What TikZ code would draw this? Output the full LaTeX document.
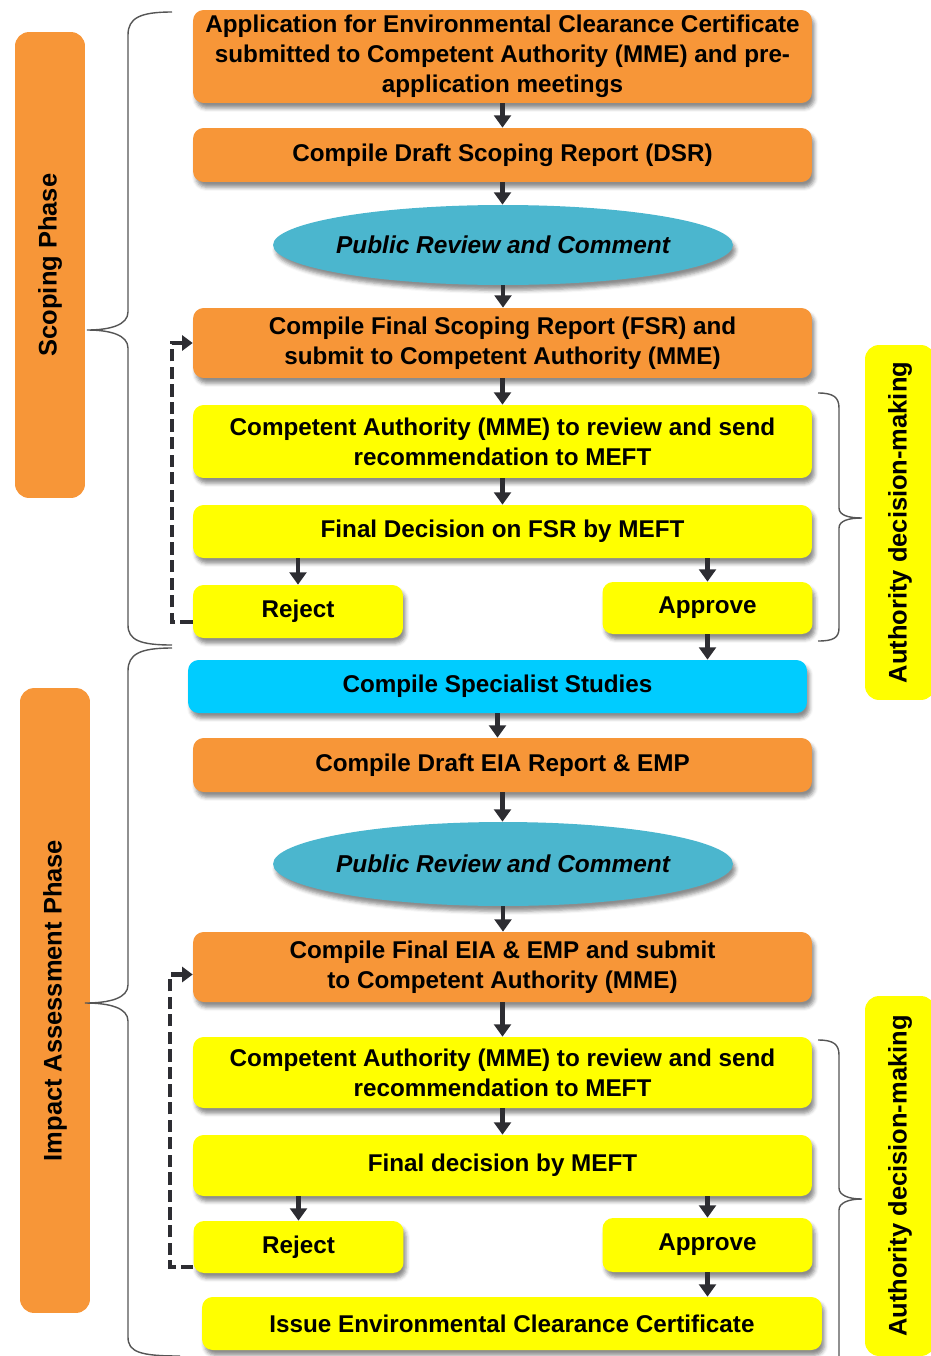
\documentclass[tikz,border=0pt]{standalone}
\usepackage{fontspec}
\setmainfont{Liberation Sans}
\usetikzlibrary{arrows.meta,shapes.geometric,shadows.blur}

\definecolor{eiaorange}{RGB}{247,150,56}
\definecolor{eiayellow}{RGB}{255,255,0}
\definecolor{eiacyan}{RGB}{0,204,255}
\definecolor{eiateal}{RGB}{75,182,206}
\definecolor{eiaarrow}{RGB}{45,45,50}
\definecolor{eiabrace}{RGB}{85,85,85}

\tikzset{
  stepbox/.style={rectangle,rounded corners=6pt,minimum width=12.38cm,inner sep=1pt,align=center,
    font=\fontsize{13.8}{17}\selectfont\bfseries,
    blur shadow={shadow xshift=1.5pt,shadow yshift=-3pt,shadow opacity=45}},
  orangebox/.style={stepbox,fill=eiaorange},
  yellowbox/.style={stepbox,fill=eiayellow},
  choicebox/.style={yellowbox,minimum width=4.2cm},
  review/.style={ellipse,fill=eiateal,minimum width=9.2cm,inner xsep=-3pt,inner ysep=1pt,
    font=\fontsize{13.9}{16}\selectfont\bfseries\itshape,
    blur shadow={shadow xshift=1.5pt,shadow yshift=-3pt,shadow opacity=45}},
  phasebar/.style={rectangle,rounded corners=8pt,rotate=90,minimum height=1.4cm,
    font=\fontsize{14.5}{16}\selectfont\bfseries},
  arr/.style={-{Triangle[length=7pt,width=9.5pt]},line width=2.8pt,draw=eiaarrow},
  fb/.style={-{Triangle[length=6pt,width=8.5pt]},dash pattern=on 7pt off 3pt,line width=2.3pt,draw=eiaarrow},
  brc/.style={draw=eiabrace,line width=0.8pt}
}

\begin{document}
\begin{tikzpicture}[x=0.02cm,y=-0.02cm]
\useasboundingbox (0,0) rectangle (930,1356);

% scoping phase
\node[orangebox,minimum height=1.86cm] (app) at (502.5,56.5) {Application for Environmental Clearance Certificate\\submitted to Competent Authority (MME) and pre-\\application meetings};
\node[orangebox,minimum height=1.08cm] (dsr) at (502.5,155) {Compile Draft Scoping Report (DSR)};
\node[review,minimum height=1.6cm] (pr1) at (503,245) {Public Review and Comment};
\node[orangebox,minimum height=1.4cm] (fsr) at (502.5,343) {Compile Final Scoping Report (FSR) and\\submit to Competent Authority (MME)};
\node[yellowbox,minimum height=1.46cm] (ca1) at (502.5,441.5) {Competent Authority (MME) to review and send\\recommendation to MEFT};
\node[yellowbox,minimum height=1.06cm] (fd1) at (502.5,531.5) {Final Decision on FSR by MEFT};
\node[choicebox,minimum height=1.06cm] (rej1) at (298,611.5) {Reject};
\node[choicebox,minimum height=1.04cm] (app1) at (707.5,608) {Approve};

% impact assessment phase
\node[stepbox,fill=eiacyan,minimum height=1.06cm] (spec) at (497.5,686.5) {Compile Specialist Studies};
\node[orangebox,minimum height=1.08cm] (deia) at (502.5,765) {Compile Draft EIA Report \& EMP};
\node[review,minimum height=1.68cm] (pr2) at (503,864) {Public Review and Comment};
\node[orangebox,minimum height=1.4cm] (feia) at (502.5,967) {Compile Final EIA \& EMP and submit\\to Competent Authority (MME)};
\node[yellowbox,minimum height=1.42cm] (ca2) at (502.5,1072.5) {Competent Authority (MME) to review  and send\\recommendation to MEFT};
\node[yellowbox,minimum height=1.22cm] (fd2) at (502.5,1165.5) {Final decision by MEFT};
\node[choicebox,minimum height=1.04cm] (rej2) at (298.5,1247) {Reject};
\node[choicebox,minimum height=1.08cm] (app2) at (707.5,1245) {Approve};
\node[yellowbox,minimum height=1.06cm,minimum width=12.4cm] (ecc) at (512,1323.5) {Issue Environmental Clearance Certificate};

% side labels
\node[phasebar,fill=eiaorange,minimum width=9.32cm] (scop) at (50,265) {Scoping Phase};
\node[phasebar,fill=eiaorange,minimum width=12.5cm] (impa) at (55,1000.5) {Impact Assessment Phase};
\node[phasebar,fill=eiayellow,minimum width=7.1cm] (auth1) at (900,522.5) {Authority decision-making};
\node[phasebar,fill=eiayellow,minimum width=7.2cm] (auth2) at (900,1176) {Authority decision-making};

% flow
\foreach \a/\b in {app/dsr,dsr/pr1,pr1/fsr,fsr/ca1,ca1/fd1,app1/spec,spec/deia,deia/pr2,pr2/feia,feia/ca2,ca2/fd2,app2/ecc}
  {\draw[arr] (\a) -- (\a |- \b.north);}
\foreach \d/\c in {fd1/rej1,fd1/app1,fd2/rej2,fd2/app2}
  {\draw[arr] (\c |- \d.south) -- (\c);}

% rejected reports go back for resubmission
\draw[fb] ([yshift=-5.7pt]rej1.west) -- ++(-21,0) |- (fsr.west);
\draw[fb] ([yshift=-0.4cm]rej2.west) -- ++(-23,0) |- ([yshift=-0.15cm]feia.west);

% phase braces (left) and decision braces (right)
\draw[brc] (172,12) .. controls (140,12) and (128,18) .. (128,35) -- (128,312)
  .. controls (128,325) and (110,330) .. (87,330) .. controls (110,330) and (128,335) .. (128,348)
  -- (128,625) .. controls (128,640) and (140,645) .. (172,645);
\draw[brc] (172,648) .. controls (140,648) and (128,654) .. (128,671) -- (128,985)
  .. controls (128,998) and (110,1003) .. (85,1003) .. controls (110,1003) and (128,1008) .. (128,1021)
  -- (128,1337) .. controls (128,1352) and (140,1356) .. (180,1356);
\draw[brc] (818,393) .. controls (833,393) and (839,397) .. (839,408) -- (839,508)
  .. controls (839,515) and (848,518) .. (862,518) .. controls (848,518) and (839,521) .. (839,528)
  -- (839,628) .. controls (839,638) and (833,641) .. (818,641);
\draw[brc] (818,1040) .. controls (833,1040) and (839,1044) .. (839,1055) -- (839,1188)
  .. controls (839,1195) and (848,1199) .. (862,1199) .. controls (848,1199) and (839,1203) .. (839,1210)
  -- (839,1356);
\end{tikzpicture}
\end{document}
